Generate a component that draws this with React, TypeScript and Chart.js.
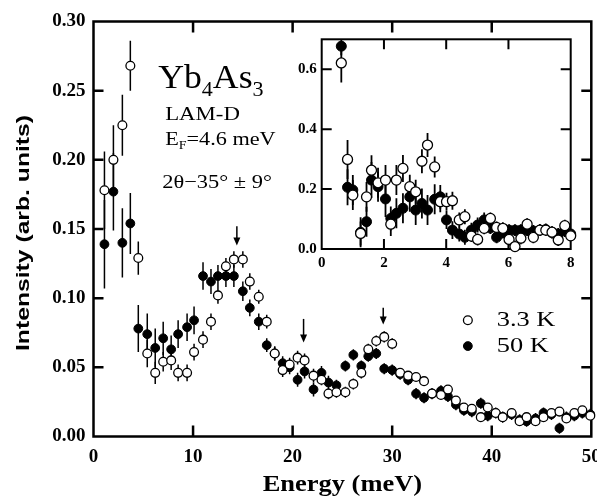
import React, { useEffect, useRef } from "react";
import { Chart, registerables } from "chart.js";
Chart.register(...registerables);

// ---------- main panel data ----------
const energy = [1.1, 2.0, 2.9, 3.7, 4.5, 5.4, 6.2, 7.0, 7.8, 8.5, 9.4, 10.1, 11.0, 11.8, 12.5, 13.3, 14.1, 15.0, 15.7, 16.6, 17.4, 18.2, 19.0, 19.7, 20.5, 21.2, 22.1, 22.9, 23.6, 24.4, 25.3, 26.1, 26.9, 27.6, 28.4, 29.2, 30.0, 30.8, 31.6, 32.4, 33.2, 34.0, 34.9, 35.6, 36.4, 37.2, 38.0, 38.9, 39.6, 40.4, 41.1, 42.0, 42.8, 43.5, 44.4, 45.2, 46.0, 46.8, 47.5, 48.3, 49.1, 49.9];
const intensity33K = [0.178, 0.200, 0.225, 0.268, 0.129, 0.060, 0.046, 0.054, 0.055, 0.046, 0.046, 0.061, 0.070, 0.083, 0.102, 0.123, 0.128, 0.128, 0.112, 0.101, 0.083, 0.060, 0.048, 0.052, 0.057, 0.055, 0.044, 0.041, 0.031, 0.032, 0.032, 0.038, 0.046, 0.063, 0.069, 0.072, 0.067, 0.046, 0.044, 0.043, 0.040, 0.031, 0.030, 0.034, 0.026, 0.021, 0.020, 0.014, 0.021, 0.017, 0.014, 0.017, 0.011, 0.014, 0.011, 0.014, 0.017, 0.018, 0.013, 0.017, 0.019, 0.015];
const err33K = [0.028, 0.025, 0.022, 0.018, 0.012, 0.010, 0.008, 0.007, 0.007, 0.006, 0.006, 0.006, 0.006, 0.006, 0.006, 0.006, 0.006, 0.006, 0.006, 0.005, 0.005, 0.005, 0.005, 0.005, 0.005, 0.005, 0.005, 0.004, 0.004, 0.004, 0.004, 0.004, 0.004, 0.004, 0.004, 0.004, 0.004, 0.003, 0.003, 0.003, 0.003, 0.003, 0.003, 0.003, 0.003, 0.003, 0.003, 0.003, 0.003, 0.003, 0.003, 0.003, 0.003, 0.003, 0.003, 0.003, 0.003, 0.003, 0.003, 0.003, 0.003, 0.003];
const intensity50K = [0.139, 0.177, 0.140, 0.154, 0.078, 0.074, 0.064, 0.071, 0.063, 0.074, 0.079, 0.084, 0.116, 0.112, 0.116, 0.116, 0.116, 0.105, 0.093, 0.083, 0.066, 0.060, 0.053, 0.050, 0.041, 0.047, 0.034, 0.046, 0.039, 0.037, 0.051, 0.059, 0.051, 0.058, 0.060, 0.049, 0.048, 0.045, 0.041, 0.031, 0.028, 0.031, 0.033, 0.029, 0.023, 0.019, 0.018, 0.024, 0.015, 0.017, 0.014, 0.016, 0.012, 0.011, 0.013, 0.017, 0.016, 0.006, 0.014, 0.015, 0.017, 0.016];
const err50K = [0.032, 0.028, 0.025, 0.022, 0.017, 0.015, 0.014, 0.012, 0.010, 0.010, 0.010, 0.010, 0.010, 0.009, 0.008, 0.008, 0.008, 0.007, 0.006, 0.006, 0.005, 0.005, 0.005, 0.005, 0.005, 0.005, 0.005, 0.005, 0.005, 0.004, 0.004, 0.004, 0.004, 0.004, 0.004, 0.004, 0.004, 0.004, 0.004, 0.004, 0.004, 0.004, 0.004, 0.004, 0.004, 0.004, 0.004, 0.004, 0.004, 0.004, 0.004, 0.004, 0.004, 0.004, 0.004, 0.004, 0.004, 0.004, 0.004, 0.004, 0.004, 0.004];
const mainXTicks = [0, 10, 20, 30, 40, 50];
const mainYTicks = [0, 0.05, 0.1, 0.15, 0.2, 0.25, 0.3];
const arrowEnergy = [14.4, 21.1, 29.1];
const arrowFrom = [0.152, 0.085, 0.093];
const arrowTo = [0.138, 0.068, 0.081];
const seriesLabels = ["3.3 K", "50 K"];

// ---------- inset data ----------
const insetEnergy = [0.63, 0.83, 1.0, 1.25, 1.44, 1.60, 1.81, 2.05, 2.22, 2.40, 2.61, 2.83, 3.02, 3.22, 3.40, 3.63, 3.81, 4.01, 4.20, 4.42, 4.60, 4.81, 5.01, 5.22, 5.42, 5.62, 5.82, 6.02, 6.21, 6.40, 6.60, 6.80, 7.01, 7.20, 7.40, 7.60, 7.81, 8.0];
const inset33K = [0.621, 0.299, 0.180, 0.052, 0.174, 0.263, 0.221, 0.230, 0.083, 0.230, 0.269, 0.208, 0.191, 0.293, 0.347, 0.274, 0.158, 0.158, 0.161, 0.097, 0.108, 0.043, 0.032, 0.069, 0.102, 0.072, 0.069, 0.032, 0.008, 0.036, 0.083, 0.039, 0.063, 0.063, 0.056, 0.030, 0.078, 0.044];
const insetErr33K = [0.065, 0.065, 0.05, 0.04, 0.05, 0.05, 0.05, 0.05, 0.04, 0.05, 0.045, 0.04, 0.04, 0.04, 0.04, 0.035, 0.035, 0.03, 0.03, 0.025, 0.025, 0.02, 0.02, 0.02, 0.02, 0.02, 0.02, 0.02, 0.02, 0.02, 0.02, 0.02, 0.02, 0.02, 0.02, 0.02, 0.02, 0.02];
const inset50K = [0.677, 0.206, 0.197, 0.056, 0.091, 0.230, 0.208, 0.167, 0.102, 0.119, 0.136, 0.174, 0.130, 0.152, 0.130, 0.166, 0.174, 0.097, 0.063, 0.050, 0.039, 0.063, 0.080, 0.097, 0.070, 0.039, 0.055, 0.063, 0.063, 0.063, 0.063, 0.060, 0.063, 0.065, 0.055, 0.050, 0.060, 0.050];
const insetErr50K = [0.03, 0.06, 0.05, 0.05, 0.05, 0.06, 0.05, 0.06, 0.04, 0.05, 0.05, 0.05, 0.05, 0.05, 0.05, 0.05, 0.04, 0.03, 0.03, 0.025, 0.025, 0.025, 0.025, 0.025, 0.02, 0.02, 0.02, 0.02, 0.02, 0.02, 0.02, 0.02, 0.02, 0.02, 0.02, 0.02, 0.02, 0.02];
const insetXTicks = [0, 2, 4, 6, 8];
const insetYTicks = [0, 0.2, 0.4, 0.6];

const SERIF = "'Liberation Serif', 'Times New Roman', serif";
const SANS = "'Liberation Sans', Arial, sans-serif";

function pts(xs: number[], ys: number[]) {
  return xs.map((x, i) => ({ x, y: ys[i] }));
}

function drawText(ctx: CanvasRenderingContext2D, s: string, x: number, y: number, font: string, sx = 1, align: CanvasTextAlign = "left") {
  ctx.save();
  ctx.translate(x, y);
  ctx.scale(sx, 1);
  ctx.font = font;
  ctx.textAlign = align;
  ctx.textBaseline = "alphabetic";
  ctx.fillStyle = "#000";
  ctx.fillText(s, 0, 0);
  const w = ctx.measureText(s).width * sx;
  ctx.restore();
  return w;
}

function errorBars(errs: number[][], lw: number) {
  return {
    id: "errorBars",
    beforeDatasetsDraw(chart: any) {
      const { ctx, chartArea } = chart;
      const xs = chart.scales.x, ys = chart.scales.y;
      ctx.save();
      ctx.beginPath();
      ctx.rect(chartArea.left, chartArea.top, chartArea.right - chartArea.left, chartArea.bottom - chartArea.top);
      ctx.clip();
      ctx.strokeStyle = "#000";
      ctx.lineWidth = lw;
      chart.data.datasets.forEach((ds: any, i: number) => {
        const e = errs[i];
        ds.data.forEach((p: any, j: number) => {
          const x = xs.getPixelForValue(p.x);
          ctx.beginPath();
          ctx.moveTo(x, ys.getPixelForValue(p.y - e[j]));
          ctx.lineTo(x, ys.getPixelForValue(p.y + e[j]));
          ctx.stroke();
        });
      });
      ctx.restore();
    },
  };
}

function frame(xt: number[], yt: number[], lw: number, lenX: number, lenY: number, fill: boolean) {
  return {
    id: "frame",
    beforeDraw(chart: any) {
      if (!fill) return;
      const { ctx, chartArea: a } = chart;
      ctx.save();
      ctx.fillStyle = "#fff";
      ctx.fillRect(a.left, a.top, a.right - a.left, a.bottom - a.top);
      ctx.restore();
    },
    beforeDatasetsDraw(chart: any) {
      const { ctx, chartArea: a } = chart;
      const xs = chart.scales.x, ys = chart.scales.y;
      ctx.save();
      ctx.strokeStyle = "#000";
      ctx.lineWidth = lw;
      ctx.strokeRect(a.left, a.top, a.right - a.left, a.bottom - a.top);
      ctx.beginPath();
      xt.slice(1, -1).forEach((v) => {
        const x = xs.getPixelForValue(v);
        ctx.moveTo(x, a.bottom); ctx.lineTo(x, a.bottom - lenX);
        ctx.moveTo(x, a.top); ctx.lineTo(x, a.top + lenX);
      });
      yt.slice(1).forEach((v) => {
        const y = ys.getPixelForValue(v);
        if (y <= a.top + 1) return;
        ctx.moveTo(a.left, y); ctx.lineTo(a.left + lenY, y);
        ctx.moveTo(a.right, y); ctx.lineTo(a.right - lenY, y);
      });
      ctx.stroke();
      ctx.restore();
    },
  };
}

const mainText = {
  id: "mainText",
  afterDraw(chart: any) {
    const { ctx, chartArea: a } = chart;
    const xs = chart.scales.x, ys = chart.scales.y;
    // compound label
    let x = xs.getPixelForValue(6.5);
    let y = ys.getPixelForValue(0.252);
    x += drawText(ctx, "Yb", x, y, `34px ${SERIF}`, 1.05);
    x += drawText(ctx, "4", x, y + 8, `21px ${SERIF}`, 1.05);
    x += drawText(ctx, "As", x, y, `34px ${SERIF}`, 1.05);
    drawText(ctx, "3", x, y + 8, `21px ${SERIF}`, 1.05);
    const x0 = xs.getPixelForValue(7.2);
    drawText(ctx, "LAM-D", x0, ys.getPixelForValue(0.229), `19px ${SERIF}`, 1.2);
    y = ys.getPixelForValue(0.211);
    x = x0;
    x += drawText(ctx, "E", x, y, `19px ${SERIF}`, 1.17);
    x += drawText(ctx, "F", x, y + 4, `12px ${SERIF}`, 1.17);
    drawText(ctx, "=4.6 meV", x, y, `19px ${SERIF}`, 1.17);
    drawText(ctx, "2\u03b8\u221235\u00b0 \u00b1 9\u00b0", x0 - 3, ys.getPixelForValue(0.180), `19px ${SERIF}`, 1.18);

    // arrows
    ctx.save();
    ctx.strokeStyle = "#000";
    ctx.fillStyle = "#000";
    ctx.lineWidth = 1.5;
    arrowEnergy.forEach((e, i) => {
      const ax = xs.getPixelForValue(e);
      const y1 = ys.getPixelForValue(arrowFrom[i]);
      const y2 = ys.getPixelForValue(arrowTo[i]);
      ctx.beginPath();
      ctx.moveTo(ax, y1);
      ctx.lineTo(ax, y2 - 6);
      ctx.stroke();
      ctx.beginPath();
      ctx.moveTo(ax - 3.5, y2 - 8);
      ctx.lineTo(ax + 3.5, y2 - 8);
      ctx.lineTo(ax, y2);
      ctx.closePath();
      ctx.fill();
    });
    ctx.restore();

    // legend
    const lx = xs.getPixelForValue(37.6);
    const tx = xs.getPixelForValue(40.5);
    const symY = [0.084, 0.0654];
    const txtY = [0.080, 0.061];
    chart.data.datasets.forEach((ds: any, i: number) => {
      const sy = ys.getPixelForValue(symY[i]);
      ctx.save();
      ctx.beginPath();
      ctx.arc(lx, sy, ds.pointRadius, 0, Math.PI * 2);
      ctx.fillStyle = ds.backgroundColor;
      ctx.fill();
      ctx.lineWidth = ds.borderWidth;
      ctx.strokeStyle = ds.borderColor;
      ctx.stroke();
      ctx.restore();
      drawText(ctx, ds.label, tx, ys.getPixelForValue(txtY[i]), `22px ${SERIF}`, 1.2);
    });

    // axis titles
    drawText(ctx, "Energy (meV)", (a.left + a.right) / 2, 490.5, `bold 23px ${SERIF}`, 1.15, "center");
    ctx.save();
    ctx.translate(23.5, (a.top + a.bottom) / 2 + 4);
    ctx.rotate(-Math.PI / 2);
    ctx.scale(1.3, 1);
    ctx.font = `bold 19px ${SANS}`;
    ctx.textAlign = "center";
    ctx.textBaseline = "middle";
    ctx.fillStyle = "#000";
    ctx.fillText("Intensity (arb. units)", 0, 0);
    ctx.restore();
  },
};

function noPad(s: any) {
  s.paddingLeft = 0;
  s.paddingRight = 0;
  s.paddingTop = 0;
  s.paddingBottom = 0;
}

export default function App() {
  const mainRef = useRef<HTMLCanvasElement>(null);
  const insetRef = useRef<HTMLCanvasElement>(null);

  useEffect(() => {
    const tickFont = { family: SERIF, size: 19, weight: "bold" as const };
    const main = new Chart(mainRef.current!, {
      type: "scatter",
      data: {
        datasets: [
          {
            label: seriesLabels[0],
            data: pts(energy, intensity33K),
            pointRadius: 4.4,
            backgroundColor: "#ffffff",
            borderColor: "#000000",
            borderWidth: 1.3,
            clip: false as any,
          },
          {
            label: seriesLabels[1],
            data: pts(energy, intensity50K),
            pointRadius: 4.4,
            backgroundColor: "#000000",
            borderColor: "#000000",
            borderWidth: 1,
            clip: false as any,
          },
        ],
      },
      options: {
        animation: false,
        responsive: false,
        devicePixelRatio: 1,
        layout: { padding: { top: 21.5, right: 5.3, left: 0, bottom: 0 } },
        plugins: { legend: { display: false }, tooltip: { enabled: false } },
        scales: {
          x: {
            type: "linear",
            min: 0,
            max: 50,
            afterFit: (s: any) => { s.height = 61.5; noPad(s); },
            afterBuildTicks: (s: any) => { s.ticks = mainXTicks.map((v) => ({ value: v })); },
            grid: { display: false, drawTicks: false },
            border: { display: false },
            ticks: { font: tickFont, color: "#000", padding: 9, maxRotation: 0, autoSkip: false, callback: (v: any) => String(v) },
          },
          y: {
            type: "linear",
            min: 0,
            max: 0.3,
            afterFit: (s: any) => { s.width = 93.5; noPad(s); },
            afterBuildTicks: (s: any) => { s.ticks = mainYTicks.map((v) => ({ value: v })); },
            grid: { display: false, drawTicks: false },
            border: { display: false },
            ticks: { font: tickFont, color: "#000", padding: 8, autoSkip: false, callback: (v: any) => Number(v).toFixed(2) },
          },
        },
      },
      plugins: [frame(mainXTicks, mainYTicks, 2.5, 11, 10, false), errorBars([err33K, err50K], 1.5), mainText],
    });

    const insetFont = { family: SERIF, size: 15, weight: "bold" as const };
    const inset = new Chart(insetRef.current!, {
      type: "scatter",
      data: {
        datasets: [
          {
            label: seriesLabels[0],
            data: pts(insetEnergy, inset33K),
            pointRadius: 5,
            backgroundColor: "#ffffff",
            borderColor: "#000000",
            borderWidth: 1.3,
            clip: false as any,
          },
          {
            label: seriesLabels[1],
            data: pts(insetEnergy, inset50K),
            pointRadius: 5,
            backgroundColor: "#000000",
            borderColor: "#000000",
            borderWidth: 1,
            clip: false as any,
          },
        ],
      },
      options: {
        animation: false,
        responsive: false,
        devicePixelRatio: 1,
        layout: { padding: { top: 14.3, right: 19.3, left: 0, bottom: 0 } },
        plugins: { legend: { display: false }, tooltip: { enabled: false } },
        scales: {
          x: {
            type: "linear",
            min: 0,
            max: 8,
            afterFit: (s: any) => { s.height = 31; noPad(s); },
            afterBuildTicks: (s: any) => { s.ticks = insetXTicks.map((v) => ({ value: v })); },
            grid: { display: false, drawTicks: false },
            border: { display: false },
            ticks: { font: insetFont, color: "#000", padding: 5, maxRotation: 0, autoSkip: false, callback: (v: any) => String(v) },
          },
          y: {
            type: "linear",
            min: 0,
            max: 0.7,
            afterFit: (s: any) => { s.width = 41.7; noPad(s); },
            afterBuildTicks: (s: any) => { s.ticks = insetYTicks.map((v) => ({ value: v })); },
            grid: { display: false, drawTicks: false },
            border: { display: false },
            ticks: { font: insetFont, color: "#000", padding: 5, autoSkip: false, callback: (v: any) => Number(v).toFixed(1) },
          },
        },
      },
      plugins: [frame(insetXTicks, insetYTicks.concat([0.7]), 2, 10, 10, true), errorBars([insetErr33K, insetErr50K], 1.8)],
    });

    return () => {
      main.destroy();
      inset.destroy();
    };
  }, []);

  return (
    <div style={{ position: "fixed", left: 0, top: 0, width: 597, height: 498, background: "#fff" }}>
      <canvas ref={mainRef} width={597} height={498} style={{ position: "absolute", left: 0, top: 0, width: 597, height: 498 }} />
      <canvas ref={insetRef} width={310} height={255} style={{ position: "absolute", left: 280, top: 25, width: 310, height: 255 }} />
    </div>
  );
}
